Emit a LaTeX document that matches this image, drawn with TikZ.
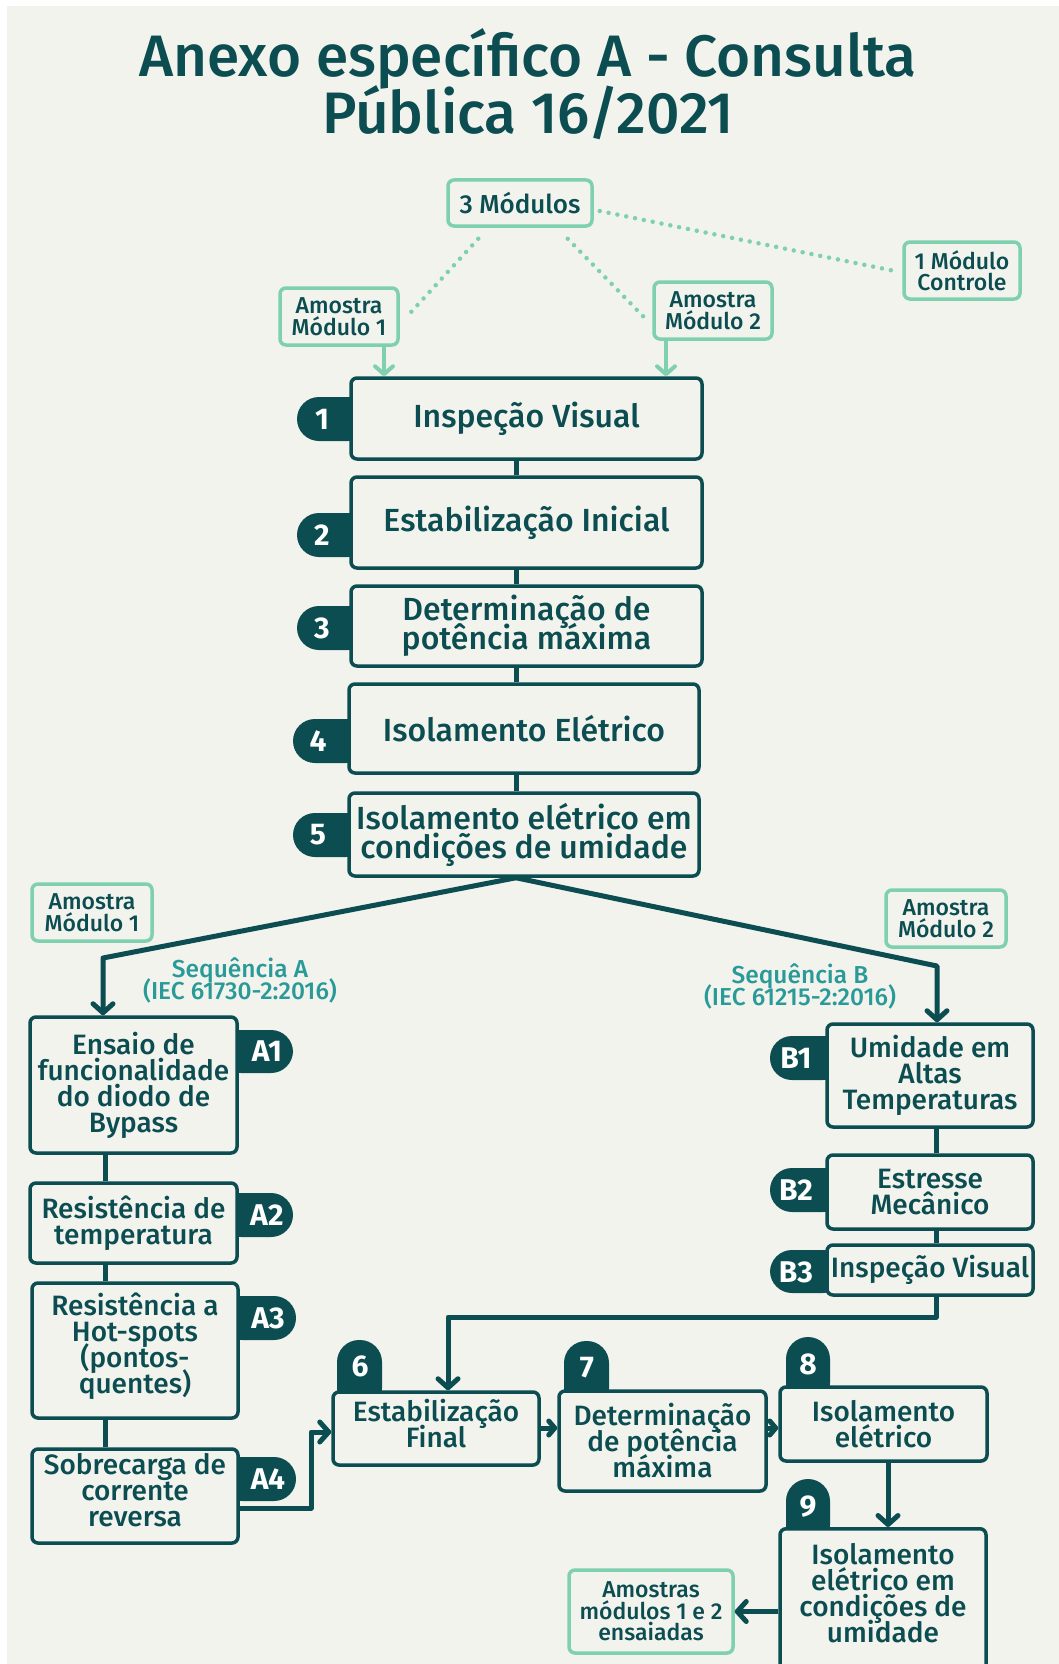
\documentclass[tikz,border=0pt]{standalone}
\usepackage{fontspec}
\setmainfont{Fira Sans}
\IfFontExistsTF{Fira Sans Medium}{\newfontfamily\medfont{Fira Sans Medium}}{\newfontfamily\medfont{Fira Sans}[FakeBold=1.5]}
\usetikzlibrary{arrows.meta}
\definecolor{bg}{HTML}{F3F3EE}
\definecolor{dk}{HTML}{0B4D50}
\definecolor{lg}{HTML}{7FD0AE}
\definecolor{sq}{HTML}{2A9A98}
\newcommand\fsz[2]{\fontsize{#1pt}{#2pt}\selectfont\lineskiplimit=-100pt\relax}
\begin{document}
\begin{tikzpicture}[x=1pt,y=-1pt,
 dkbox/.style={draw=dk, line width=3.5pt, rounded corners=6pt, fill=bg, text=dk, align=center, inner sep=0pt},
 bigtxt/.style={font=\medfont\fsz{32}{29}},
 medtxt/.style={font=\medfont\fsz{28}{26}},
 lgbox/.style={draw=lg, line width=3.5pt, rounded corners=6pt, fill=bg, text=dk, align=center, inner sep=0pt, font=\medfont\fsz{23}{21.5}},
 badge/.style={fill=dk, rounded corners=22pt},
 num/.style={text=white, font=\bfseries\fsz{30}{30}, inner sep=0pt},
 conn/.style={draw=dk, line width=5pt, line join=round},
 arr/.style={conn, -{Straight Barb[length=9pt,width=20pt,round]}},
 sarr/.style={conn, -{Straight Barb[length=6pt,width=14pt,round]}},
 lgarr/.style={draw=lg, line width=4pt, -{Straight Barb[length=8pt,width=18pt,round]}},
 dots/.style={draw=lg, line width=4.5pt, line cap=round, dash pattern=on 0pt off 9pt},
 seq/.style={text=sq, align=center, font=\medfont\fsz{24.5}{22}, inner sep=0pt},
 ttl/.style={text=dk, font=\medfont\fsz{58.5}{57}, inner sep=0pt, anchor=base},
]
\fill[white] (0,0) rectangle (1059,1664);
\fill[bg] (7,6) rectangle (1059,1664);
\useasboundingbox (0,0) rectangle (1059,1664);

% title
\node[ttl] (t1) at (528,77) {Anexo específico A - Consulta};
\node[ttl] (t2) at (528,134) {Pública 16/2021};

% helper coordinates
\coordinate (sp) at (516,0);
\coordinate (asp) at (105,0);
\coordinate (bsp) at (936,0);
\coordinate (xa) at (384,0);
\coordinate (xb) at (666,0);
\coordinate (x9) at (888,0);

% badges of main boxes
\fill[badge] (297,397) rectangle (370,441);
\fill[badge] (297,513) rectangle (370,557);
\fill[badge] (297,606) rectangle (370,650);
\fill[badge] (293,719) rectangle (368,763);
\fill[badge] (293,813) rectangle (368,857);
\node[num] (n1) at (322,419) {1};
\node[num] (n2) at (322,535) {2};
\node[num] (n3) at (322,628) {3};
\node[num] (n4) at (318,741) {4};
\node[num] (n5) at (318,835) {5};

% main boxes
\node[dkbox,bigtxt,minimum width=351pt,minimum height=81pt] (b1) at (526.5,418.5) {Inspeção Visual};
\node[dkbox,bigtxt,minimum width=351pt,minimum height=91pt] (b2) at (526.5,522.5) {Estabilização Inicial};
\node[dkbox,bigtxt,minimum width=351pt,minimum height=80pt] (b3) at (526.5,626) {Determinação de\\potência máxima};
\node[dkbox,bigtxt,minimum width=350pt,minimum height=89pt] (b4) at (524,728.5) {Isolamento Elétrico};
\node[dkbox,bigtxt,minimum width=350pt,minimum height=83pt] (b5) at (524,834.5) {Isolamento elétrico em\\condições de umidade};
\draw[conn] (b1.south -| sp) -- (b2.north -| sp);
\draw[conn] (b2.south -| sp) -- (b3.north -| sp);
\draw[conn] (b3.south -| sp) -- (b4.north -| sp);
\draw[conn] (b4.south -| sp) -- (b5.north -| sp);

% light green boxes
\node[lgbox, font=\medfont\fsz{26}{24}, minimum width=144pt, minimum height=46pt] (m3) at (520,203) {3 Módulos};
\node[lgbox, minimum width=116pt, minimum height=57pt] (ctrl) at (962,270.5) {1 Módulo\\Controle};
\node[lgbox, minimum width=118pt, minimum height=57pt] (s1) at (339,316.5) {Amostra\\Módulo 1};
\node[lgbox, minimum width=118pt, minimum height=57pt] (s2) at (713,310.5) {Amostra\\Módulo 2};
\node[lgbox, minimum width=120pt, minimum height=57pt] (s1b) at (92,912.5) {Amostra\\Módulo 1};
\node[lgbox, minimum width=120pt, minimum height=57pt] (s2b) at (946,918.5) {Amostra\\Módulo 2};

\draw[dots] ([shift={(32,11)}]m3.south west) -- ([shift={(10,-3)}]s1.east);
\draw[dots] ([shift={(-26,11)}]m3.south east) -- ([shift={(-7,8)}]s2.west);
\draw[dots] ([shift={(6,8)}]m3.east) -- ([shift={(-5,1)}]ctrl.west);
\draw[lgarr] (s1.south -| xa) -- (b1.north -| xa);
\draw[lgarr] (s2.south -| xb) -- (b1.north -| xb);

% sequence split
\coordinate (ka) at (103,958);
\coordinate (kb) at (937,966);
\node[seq] (seqa) at (240,980) {Sequência A\\(IEC 61730-2:2016)};
\node[seq] (seqb) at (800,986) {Sequência B\\(IEC 61215-2:2016)};

% A badges
\fill[badge] (219,1030) rectangle (293,1073);
\fill[badge] (219,1193) rectangle (293,1237);
\fill[badge] (220,1296) rectangle (296,1340);
\fill[badge] (220,1457) rectangle (296,1501);
\node[num] (na1) at (267,1051) {A1};
\node[num] (na2) at (267,1215) {A2};
\node[num] (na3) at (268,1318) {A3};
\node[num] (na4) at (268,1479) {A4};

% A boxes
\node[dkbox,medtxt,minimum width=207pt,minimum height=136pt] (A1) at (133.5,1085) {Ensaio de\\funcionalidade\\do diodo de\\Bypass};
\node[dkbox,medtxt,minimum width=207pt,minimum height=80pt] (A2) at (133.5,1223) {Resistência de\\temperatura};
\node[dkbox,medtxt,minimum width=206pt,minimum height=135pt,text depth=15pt] (A3) at (135,1350.5) {Resistência a\\Hot-spots\\(pontos-\\quentes)};
\node[dkbox,medtxt,minimum width=206pt,minimum height=94pt,text depth=12pt] (A4) at (135,1496) {Sobrecarga de\\corrente\\reversa};
\draw[conn] (A1.south -| asp) -- (A2.north -| asp);
\draw[conn] (A2.south -| asp) -- (A3.north -| asp);
\draw[conn] (A3.south -| asp) -- (A4.north -| asp);

% B badges
\fill[badge] (770,1036) rectangle (845,1080);
\fill[badge] (770,1168) rectangle (845,1212);
\fill[badge] (770,1250) rectangle (845,1293);
\node[num] (nb1) at (796,1058) {B1};
\node[num] (nb2) at (796,1190) {B2};
\node[num] (nb3) at (796,1272) {B3};

% B boxes
\node[dkbox,medtxt,minimum width=206pt,minimum height=103pt] (B1) at (930,1075.5) {Umidade em\\Altas\\Temperaturas};
\node[dkbox,medtxt,minimum width=206pt,minimum height=74pt] (B2) at (930,1192) {Estresse\\Mecânico};
\node[dkbox,medtxt,minimum width=206pt,minimum height=50pt] (B3) at (930,1270) {Inspeção Visual};
\draw[conn] (B1.south -| bsp) -- (B2.north -| bsp);
\draw[conn] (B2.south -| bsp) -- (B3.north -| bsp);

\draw[arr] (b5.south -| sp) -- (ka) -- (ka |- A1.north);
\draw[arr] (b5.south -| sp) -- (kb) -- (kb |- B1.north);

% top badges
\fill[badge] (337,1340) rectangle (382,1410);
\fill[badge] (564,1341) rectangle (609,1410);
\fill[badge] (786,1337) rectangle (830,1405);
\fill[badge] (786,1479) rectangle (830,1547);
\node[num] (n6) at (360,1366) {6};
\node[num] (n7) at (587,1368) {7};
\node[num] (n8) at (808,1364) {8};
\node[num] (n9) at (808,1507) {9};

% final boxes
\node[dkbox,medtxt,minimum width=206pt,minimum height=73pt,text depth=11pt] (b6) at (436,1428.5) {Estabilização\\Final};
\node[dkbox,medtxt,minimum width=207pt,minimum height=100pt] (b7) at (662.5,1441) {Determinação\\de potência\\máxima};
\node[dkbox,medtxt,minimum width=207pt,minimum height=74pt] (b8) at (883.5,1424) {Isolamento\\elétrico};
\node[dkbox,minimum width=206pt,minimum height=180pt,anchor=north] (b9) at (883,1527) {};
\node[text=dk,medtxt,align=center,inner sep=0pt] (b9t) at (883,1593) {Isolamento\\elétrico em\\condições de\\umidade};
\node[lgbox, minimum width=164pt, minimum height=83pt] (out) at (651,1611.5) {Amostras\\módulos 1 e 2\\ensaiadas};

\coordinate (kc) at (448,1317);
\coordinate (kd) at (311,1508);
\coordinate (ke) at (311,1432);
\coordinate (yr) at (0,1428);
\draw[arr] (B3.south -| bsp) |- (kc) -- (kc |- b6.north);
\draw[arr] (A4.east |- kd) -- (kd) -- (ke) -- (b6.west |- ke);
\draw[sarr] (b6.east |- yr) -- (b7.west |- yr);
\draw[sarr] (b7.east |- yr) -- (b8.west |- yr);
\draw[arr] (b8.south -| x9) -- (b9.north -| x9);
\draw[arr] (b9.west |- out.east) -- (out.east);
\end{tikzpicture}
\end{document}
